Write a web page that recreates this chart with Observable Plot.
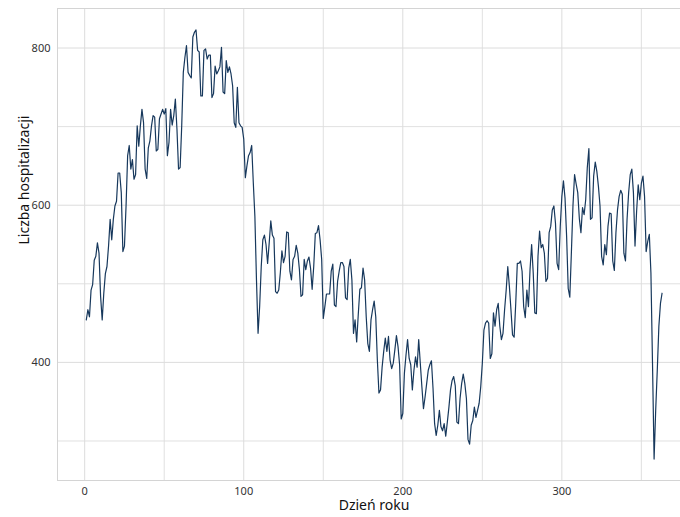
<!DOCTYPE html>
<html>
<head>
<meta charset="utf-8">
<script src="https://cdn.jsdelivr.net/npm/d3@7"></script>
<script src="https://cdn.jsdelivr.net/npm/@observablehq/plot@0.6"></script>
<style>
  html, body { margin: 0; padding: 0; background: #fff; }
</style>
</head>
<body>
<div id="chart"></div>
<script>
const dayStart = 1;
const values = [
  454,467,458,492,499,530,535,552,539,484,
  454,488,513,522,548,582,556,582,599,605,
  641,641,616,541,548,599,663,676,646,658,
  633,639,701,675,701,722,705,646,634,673,
  682,701,714,712,669,671,710,716,722,716,
  723,663,680,722,702,714,735,697,646,648,
  701,769,788,803,769,765,762,814,820,823,
  797,795,739,739,797,799,786,791,791,737,
  742,777,767,771,776,801,744,742,784,769,
  776,767,752,705,699,750,705,701,699,684,
  635,650,663,667,676,629,586,505,437,471,
  522,556,562,550,526,552,580,562,558,490,
  488,492,514,542,527,535,566,565,516,505,
  531,535,549,539,518,484,486,531,518,529,
  534,520,493,522,564,565,574,556,531,456,
  471,487,487,487,516,525,473,471,503,516,
  527,527,522,482,480,520,531,505,437,454,
  426,461,493,495,520,505,458,424,414,454,
  467,478,458,403,361,365,394,414,431,414,
  433,403,392,399,416,434,420,397,328,335,
  386,409,429,405,397,365,390,407,394,429,
  399,369,341,356,373,390,397,402,367,322,
  307,320,339,318,313,322,306,324,343,365,
  377,382,370,324,322,354,373,385,373,354,
  302,296,320,326,343,330,339,348,369,399,
  441,450,453,450,405,411,463,446,467,475,
  446,429,437,467,492,522,497,467,435,432,
  475,526,526,529,516,471,457,492,471,518,
  550,514,463,462,535,567,546,550,539,503,
  507,565,573,594,599,577,526,518,573,611,
  631,609,560,494,483,540,600,639,627,616,
  583,565,597,588,607,648,672,582,584,637,
  655,643,624,599,535,524,550,537,573,590,
  589,529,517,565,594,611,619,614,539,529,
  582,616,639,646,616,548,592,626,607,628,
  637,611,541,554,563,514,399,277,339,390,
  446,475,488
];
const days = values.map((v, i) => dayStart + i);
const xTicks = [0, 100, 200, 300];
const xMinor = [50, 150, 250, 350];
const yTicks = [400, 600, 800];
const yMinor = [300, 500, 700];
const xLabel = "Dzień roku";
const yLabel = "Liczba hospitalizacji";

const data = days.map((d, i) => ({day: d, value: values[i]}));
const gridColor = "#dcdcdc";
const xDomain = [-17.1, 374.6];
const yDomain = [249.7, 850.3];

const chart = Plot.plot({
  width: 680,
  height: 517,
  marginLeft: 57,
  marginRight: 0,
  marginTop: 8,
  marginBottom: 37,
  style: {fontFamily: "'Noto Sans', sans-serif", fontSize: "11px", color: "#333", background: "#fff"},
  x: {domain: xDomain},
  y: {domain: yDomain},
  marks: [
    Plot.gridX(xMinor, {stroke: gridColor, strokeOpacity: 1, strokeWidth: 0.9}),
    Plot.gridX(xTicks, {stroke: gridColor, strokeOpacity: 1, strokeWidth: 1}),
    Plot.gridY(yMinor, {stroke: gridColor, strokeOpacity: 1, strokeWidth: 0.9}),
    Plot.gridY(yTicks, {stroke: gridColor, strokeOpacity: 1, strokeWidth: 1}),
    Plot.ruleX([xDomain[0]], {stroke: "#d4d4d4", strokeWidth: 1}),
    Plot.ruleY(yDomain, {stroke: "#d4d4d4", strokeWidth: 1}),
    Plot.axisX(xTicks, {tickSize: 0, tickPadding: 6.5, label: null, fill: "#333"}),
    Plot.axisY(yTicks, {tickSize: 0, tickPadding: 7, label: null, fill: "#333"}),
    Plot.lineY(data, {x: "day", y: "value", stroke: "#17385c", strokeWidth: 1.2}),
    Plot.text([xLabel], {frameAnchor: "bottom", dx: 5, dy: 29.5, fontSize: 14, fill: "#111"}),
    Plot.text([yLabel], {frameAnchor: "left", dx: -33, rotate: -90, fontSize: 14, fill: "#111"})
  ]
});
document.getElementById("chart").appendChild(chart);
</script>
</body>
</html>
